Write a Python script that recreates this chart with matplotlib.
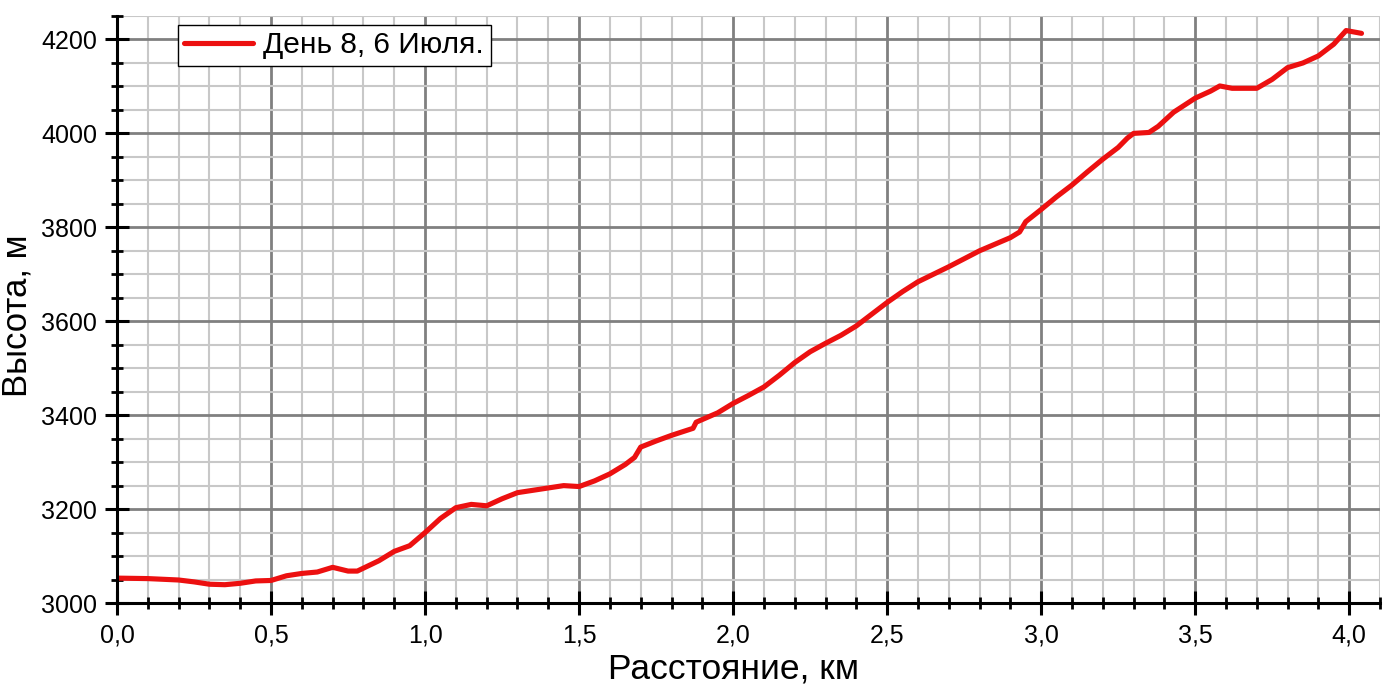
import matplotlib
matplotlib.use("Agg")
import matplotlib.pyplot as plt
from matplotlib.ticker import MultipleLocator, FuncFormatter

# профиль высоты, день 8
dist_km = [0.00, 0.10, 0.20, 0.25, 0.30, 0.35, 0.40, 0.45, 0.50, 0.55, 0.60, 0.65,
           0.70, 0.75, 0.78, 0.85, 0.90, 0.95, 1.00, 1.05, 1.10, 1.15, 1.20, 1.25,
           1.30, 1.40, 1.45, 1.50, 1.55, 1.60, 1.65, 1.68, 1.70, 1.75, 1.80, 1.87,
           1.88, 1.95, 2.00, 2.05, 2.10, 2.15, 2.20, 2.25, 2.30, 2.35, 2.40, 2.45,
           2.50, 2.55, 2.60, 2.65, 2.70, 2.75, 2.80, 2.85, 2.90, 2.93, 2.95, 3.00,
           3.05, 3.10, 3.15, 3.20, 3.25, 3.28, 3.30, 3.35, 3.38, 3.43, 3.50, 3.55,
           3.58, 3.62, 3.70, 3.75, 3.80, 3.85, 3.90, 3.95, 3.99, 4.04]
height_m = [3053, 3052, 3049, 3045, 3040, 3039, 3042, 3047, 3048, 3058, 3063, 3066,
            3076, 3068, 3068, 3090, 3110, 3122, 3150, 3180, 3203, 3210, 3207, 3222,
            3235, 3245, 3250, 3248, 3260, 3275, 3295, 3310, 3332, 3345, 3357, 3372,
            3385, 3405, 3425, 3442, 3460, 3485, 3512, 3535, 3553, 3570, 3590, 3615,
            3640, 3663, 3684, 3700, 3716, 3733, 3750, 3764, 3778, 3790, 3812, 3838,
            3865, 3890, 3918, 3945, 3970, 3990, 4000, 4002, 4015, 4045, 4075, 4090,
            4101, 4096, 4096, 4115, 4140, 4150, 4165, 4190, 4219, 4213]
label = "День 8, 6 Июля."

plt.rcParams['font.family'] = ['Liberation Sans', 'DejaVu Sans']

fig = plt.figure(figsize=(14, 6.89), dpi=100)
ax = fig.add_axes([0.0836, 0.1248, 0.9021, 0.852])

ax.plot(dist_km, height_m, color="#ec1010", lw=3.7, label=label, zorder=3,
        solid_capstyle="round", solid_joinstyle="round")

ax.set_xlim(0, 4.1)
ax.set_ylim(3000, 4250)
ax.xaxis.set_major_locator(MultipleLocator(0.5))
ax.xaxis.set_minor_locator(MultipleLocator(0.1))
ax.yaxis.set_major_locator(MultipleLocator(200))
ax.yaxis.set_minor_locator(MultipleLocator(50))
ax.xaxis.set_major_formatter(FuncFormatter(lambda v, p: f"{v:.1f}".replace(".", ",")))

ax.grid(which="major", color="#808080", lw=2, zorder=1)
ax.grid(which="minor", color="#c8c8c8", lw=1.5, zorder=0)
ax.set_axisbelow(True)

for s in ["top", "right"]:
    ax.spines[s].set_visible(False)
for s in ["left", "bottom"]:
    ax.spines[s].set_linewidth(2.2)
    ax.spines[s].set_zorder(4)

ax.tick_params(which="major", direction="inout", length=17, width=2.2, labelsize=18, pad=6)
ax.tick_params(which="minor", direction="inout", length=9, width=2)

ax.set_xlabel("Расстояние, км", fontsize=25.5)
ax.set_ylabel("Высота, м", fontsize=25)
ax.xaxis.set_label_coords(0.4885, -0.085)
ax.yaxis.set_label_coords(-0.066, 0.49)

leg = ax.legend(loc="upper left", bbox_to_anchor=(0.048, 0.985), fontsize=21.5,
                fancybox=False, framealpha=1, edgecolor="black", handlelength=2.3,
                borderpad=0.22, handletextpad=0.35, borderaxespad=0)
leg.get_frame().set_linewidth(1.0)

fig.savefig("out.png", dpi=100)
